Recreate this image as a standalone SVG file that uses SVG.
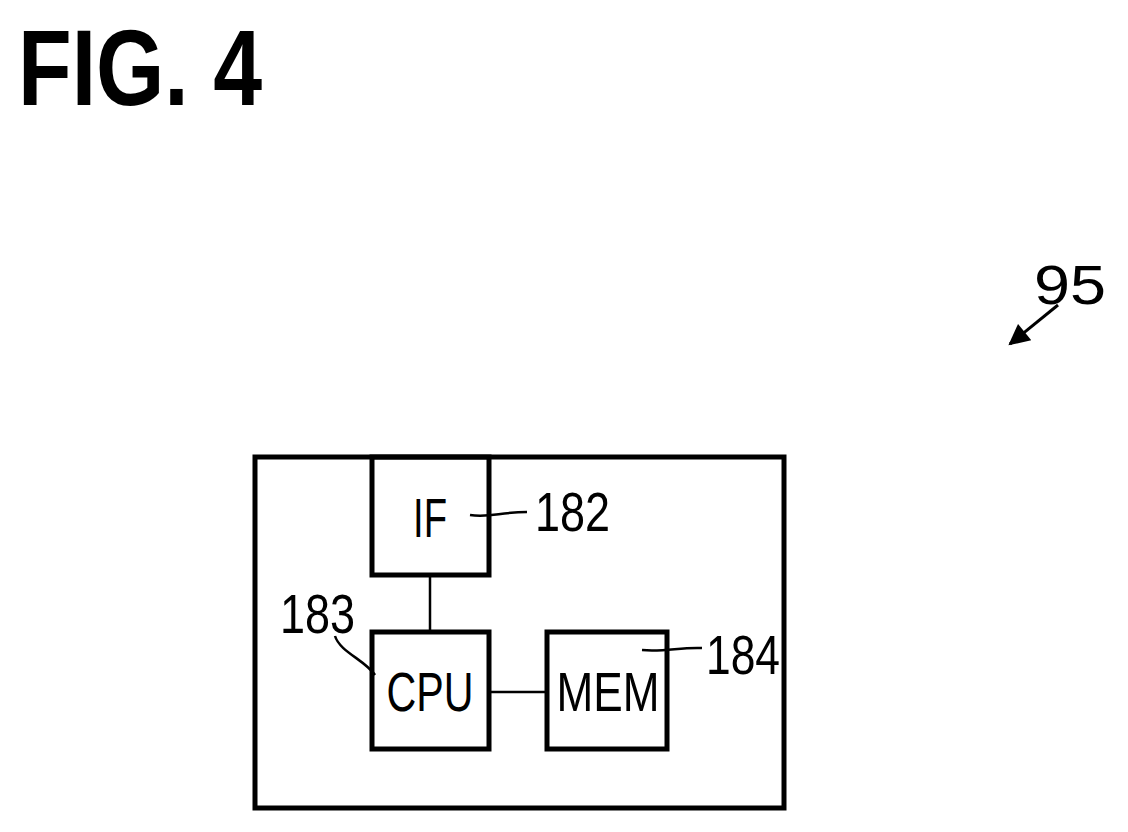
<svg xmlns="http://www.w3.org/2000/svg" width="1128" height="832" viewBox="0 0 1128 832">
<style>
.box{fill:none;stroke:#000;stroke-width:5}
.ln{fill:none;stroke:#000;stroke-width:2.5}
.t{font-family:"Liberation Sans",Arial,sans-serif;font-size:55px;fill:#000}
</style>
<defs><marker id="ah" viewBox="0 0 10 10" refX="9" refY="5" markerWidth="10" markerHeight="7" orient="auto" markerUnits="strokeWidth"><path d="M0,0 L10,5 L0,10 Z" fill="#000"/></marker></defs>
<rect width="1128" height="832" fill="#fff"/>
<text x="18" y="105" font-family="Liberation Sans,Arial,sans-serif" font-weight="bold" font-size="108" textLength="244" lengthAdjust="spacingAndGlyphs">FIG. 4</text>
<g id="outer"><rect class="box" x="255" y="457" width="529" height="351"/></g>
<g id="if"><rect class="box" x="372" y="457" width="117" height="118"/><text class="t" x="430" y="537" text-anchor="middle" textLength="34" lengthAdjust="spacingAndGlyphs">IF</text></g>
<g id="cpu"><rect class="box" x="372" y="632" width="117" height="117"/><text class="t" x="430" y="711" text-anchor="middle" textLength="87" lengthAdjust="spacingAndGlyphs">CPU</text></g>
<g id="mem"><rect class="box" x="547" y="632" width="120" height="117"/><text class="t" x="608" y="711" text-anchor="middle" textLength="103" lengthAdjust="spacingAndGlyphs">MEM</text></g>
<g id="connectors">
<line class="ln" x1="430" y1="575" x2="430" y2="632"/>
<line class="ln" x1="489" y1="692" x2="547" y2="692"/>
<path class="ln" d="M470,515 C490,518 500,512 527,512"/>
<path class="ln" d="M335,636 C340,652 365,660 375,675"/>
<path class="ln" d="M642,650 C665,652 680,647 702,648"/>
<line x1="1058" y1="305" x2="1010" y2="344" stroke="#000" stroke-width="3" marker-end="url(#ah)"/>
</g>
<g id="labels">
<text class="t" x="535" y="531" textLength="75" lengthAdjust="spacingAndGlyphs">182</text>
<text class="t" x="280" y="633" textLength="75" lengthAdjust="spacingAndGlyphs">183</text>
<text class="t" x="706" y="674" textLength="74" lengthAdjust="spacingAndGlyphs">184</text>
<text class="t" x="1034" y="304" font-size="58" textLength="72" lengthAdjust="spacingAndGlyphs">95</text>
</g>
</svg>
